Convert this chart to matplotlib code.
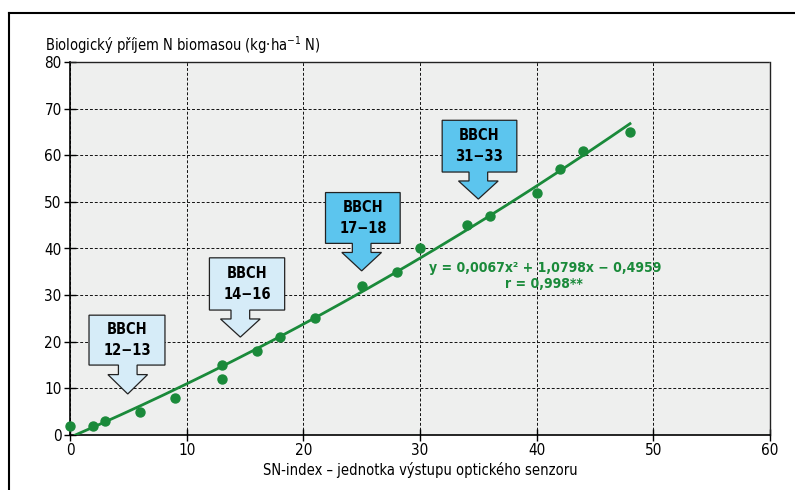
import matplotlib.pyplot as plt
import numpy as np
from matplotlib.patches import Polygon
from matplotlib.lines import Line2D

plt.rcParams['font.family'] = ['DejaVu Sans']
plt.rcParams['font.stretch'] = 'condensed'

# SN-index vs. N uptake
sn_index = [0, 2, 3, 6, 9, 13, 13, 16, 18, 21, 25, 28, 30, 34, 36, 40, 42, 44, 48]
n_uptake = [2, 2, 3, 5, 8, 15, 12, 18, 21, 25, 32, 35, 40, 45, 47, 52, 57, 61, 65]

# polynomial fit from the chart
coef = [0.0067, 1.0798, -0.4959]
fit_x_start, fit_x_end = 0.46, 48

# growth stage callouts: label, box (x0, x1, y0, y1), arrow tip (x, y), colour
stages = ['BBCH\n12\u221213', 'BBCH\n14\u221216', 'BBCH\n17\u221218', 'BBCH\n31\u221233']
boxes = [(1.63, 8.14, 15.0, 25.7), (11.95, 18.4, 26.8, 38.0),
         (21.9, 28.3, 41.1, 52.0), (31.9, 38.3, 56.4, 67.5)]
tips = [(4.95, 8.8), (14.6, 21.0), (25.0, 35.2), (35.0, 50.6)]
box_colors = ['#d6ecf8', '#d6ecf8', '#5cc5ee', '#5cc5ee']

green = '#1a8a3a'

fig = plt.figure(figsize=(7.95, 4.9), dpi=100)
ax = fig.add_axes([70/795, 55/490, 700/795, 373/490])
ax.set_facecolor('#eeefee')

ax.set_xlim(0, 60)
ax.set_ylim(0, 80)
ax.set_xticks(range(0, 61, 10))
ax.set_yticks(range(0, 81, 10))
ax.grid(True, color='#111111', linestyle=(0, (3, 2)), linewidth=0.7)
ax.set_axisbelow(True)
for s in ['top', 'right']:
    ax.spines[s].set_linestyle((0, (3, 1)))
    ax.spines[s].set_linewidth(1.0)
    ax.spines[s].set_color('#222222')
for s in ['left', 'bottom']:
    ax.spines[s].set_linewidth(1.2)
ax.tick_params(direction='inout', length=8, width=1, labelsize=11, pad=2)

xs = np.linspace(fit_x_start, fit_x_end, 200)
ax.plot(xs, np.polyval(coef, xs), color=green, linewidth=2, zorder=3)
ax.scatter(sn_index, n_uptake, s=42, color=green, zorder=4, clip_on=False)

for lab, (x0, x1, y0, y1), (tx, ty), c in zip(stages, boxes, tips, box_colors):
    neck = 0.8
    head = 1.7
    neck_h = (y0 - ty) * 0.33
    pts = [(x0, y1), (x1, y1), (x1, y0), (tx + neck, y0), (tx + neck, y0 - neck_h),
           (tx + head, y0 - neck_h), (tx, ty), (tx - head, y0 - neck_h),
           (tx - neck, y0 - neck_h), (tx - neck, y0), (x0, y0)]
    ax.add_patch(Polygon(pts, closed=True, facecolor=c, edgecolor='#222222',
                         linewidth=0.9, zorder=5))
    ax.text((x0 + x1) / 2, (y0 + y1) / 2, lab, ha='center', va='center',
            fontsize=10.5, fontweight='bold', linespacing=1.5, zorder=6)

ax.text(40.7, 35.8, 'y = 0,0067x\u00b2 + 1,0798x \u2212 0,4959', color=green,
        fontsize=10, fontweight='bold', ha='center', va='center')
ax.text(40.6, 32.4, 'r = 0,998**', color=green,
        fontsize=10, fontweight='bold', ha='center', va='center')

fig.text(45/795, 1 - 45/490, 'Biologický příjem N biomasou (kg·ha$^{\u22121}$ N)',
         fontsize=10.5, ha='left', va='center')
fig.text(420/795, 1 - 470/490, 'SN-index \u2013 jednotka výstupu optického senzoru',
         fontsize=10.5, ha='center', va='center')

# outer frame (top and left)
fig.add_artist(Line2D([9/795, 1], [1 - 13/490, 1 - 13/490], color='black', linewidth=1.5))
fig.add_artist(Line2D([9/795, 9/795], [0, 1 - 13/490], color='black', linewidth=1.5))

fig.savefig('out.png', dpi=100)
